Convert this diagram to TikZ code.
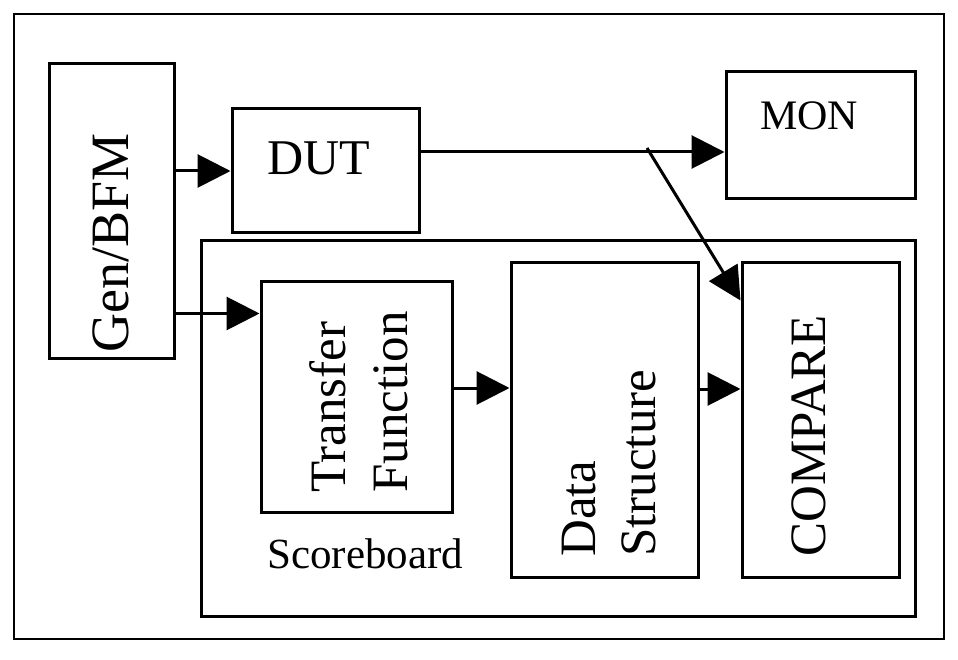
\documentclass[tikz,border=0pt]{standalone}
\usepackage{fontspec}
\setmainfont{Liberation Serif}
\usetikzlibrary{arrows.meta,calc}
\begin{document}
\begin{tikzpicture}[x=1pt,y=-1pt,
  box/.style={draw,line width=3pt,inner sep=0pt},
  frame/.style={draw,line width=2pt,inner sep=0pt},
  lbl/.style={inner sep=0pt},
  bigfont/.style={font=\fontsize{51}{56}\selectfont},
  midfont/.style={font=\fontsize{42}{46}\selectfont},
  conn/.style={line width=3pt,-{Triangle[length=33pt,width=33pt]}}]
\useasboundingbox (0,0) rectangle (958,660);
% boxes
\node[frame,minimum width=930pt,minimum height=625pt] (outer) at (479,326.5) {};
\node[box,minimum width=125pt,minimum height=294pt] (gen) at (111.5,211) {};
\node[box,minimum width=187pt,minimum height=124pt] (dut) at (325.5,171) {};
\node[box,minimum width=189pt,minimum height=127pt] (mon) at (820.5,135.5) {};
\node[box,minimum width=714pt,minimum height=375pt] (sb) at (558,428.5) {};
\node[box,minimum width=191pt,minimum height=230pt] (tf) at (356.5,397) {};
\node[box,minimum width=187pt,minimum height=314pt] (ds) at (604.5,420) {};
\node[box,minimum width=157pt,minimum height=314pt] (cmp) at (820.5,420) {};
% texts
\node[lbl,font=\fontsize{54}{58}\selectfont,rotate=90,anchor=base west] (tgen) at (128,353) {Gen/BFM};
\node[lbl,font=\fontsize{50}{54}\selectfont,anchor=base west] (tdut) at (267,175) {DUT};
\node[lbl,midfont,anchor=base west] (tmon) at (760,130) {MON};
\node[lbl,bigfont,rotate=90,anchor=base west] (ttf1) at (345,493) {Transfer};
\node[lbl,bigfont,rotate=90,anchor=base west] (ttf2) at (407,493) {Function};
\node[lbl,bigfont,rotate=90,anchor=base west] (tds1) at (595,557) {Data};
\node[lbl,bigfont,rotate=90,anchor=base west] (tds2) at (655,557) {Structure};
\node[lbl,bigfont,rotate=90,anchor=base west] (tcmp) at (825,557) {COMPARE};
\node[lbl,font=\fontsize{43}{47}\selectfont,anchor=base west] (tsb) at (267,568) {Scoreboard};
% connection points
\coordinate (tfin) at ([yshift=-33pt]tf.north west);
\coordinate (dutout) at ([yshift=19pt]dut.east);
\coordinate (tfout) at ([yshift=9pt]tf.east);
\coordinate (dsout) at ([yshift=31pt]ds.east);
\coordinate (cmpin) at ([yshift=-39pt]cmp.north west);
\coordinate (tap) at (647,148);
% connectors
\draw[conn] (gen.east |- dut.west) -- (dut.west);
\draw[conn] (gen.east |- tfin) -- (tfin);
\draw[conn] (dutout) -- (mon.west |- dutout);
\draw[conn] (tfout) -- (ds.west |- tfout);
\draw[conn] (dsout) -- (cmp.west |- dsout);
\draw[conn] (tap) -- (cmpin);
\end{tikzpicture}
\end{document}
